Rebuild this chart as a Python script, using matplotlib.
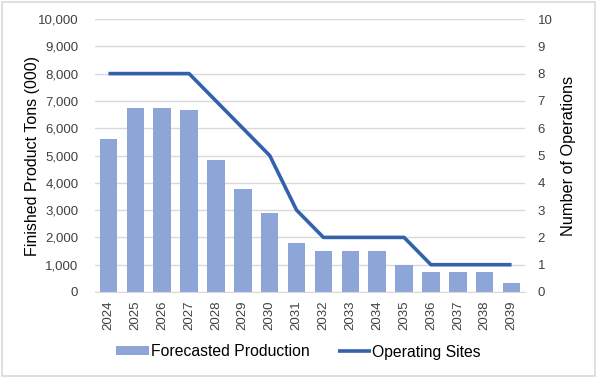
import matplotlib
matplotlib.use("Agg")
import matplotlib.pyplot as plt
from matplotlib.ticker import FuncFormatter, MultipleLocator
from matplotlib.patches import Rectangle

plt.rcParams['font.family'] = ['Liberation Sans', 'DejaVu Sans']

years = [str(y) for y in range(2024, 2040)]
production = [5600, 6750, 6750, 6650, 4850, 3780, 2900, 1780, 1520, 1500, 1500, 1000, 730, 730, 730, 340]
sites = [8, 8, 8, 8, 7, 6, 5, 3, 2, 2, 2, 2, 1, 1, 1, 1]

fig = plt.figure(figsize=(5.97, 3.78), dpi=100)
ax = fig.add_axes([95/597, 1 - 292/378, 430/597, 273/378])
ax2 = ax.twinx()

x = list(range(len(years)))
bar_color = '#8EA5D8'
line_color = '#3461AC'
bars = ax.bar(x, production, width=0.65, color=bar_color, zorder=2, label='Forecasted Production')
ln, = ax2.plot(x, sites, color=line_color, lw=2.6, label='Operating Sites', solid_capstyle='butt', zorder=3)

ax.set_ylim(0, 10000)
ax.yaxis.set_major_locator(MultipleLocator(1000))
ax.yaxis.set_major_formatter(FuncFormatter(lambda v, p: f"{int(v):,}"))
ax2.set_ylim(0, 10)
ax2.yaxis.set_major_locator(MultipleLocator(1))
ax.set_xlim(-0.5, len(years) - 0.5)
ax.set_xticks(x)
ax.set_xticklabels(years, rotation=90, fontsize=9.5, color='#404040')

ax.grid(axis='y', color='#D9D9D9', lw=1, zorder=0)
ax.set_axisbelow(True)
for a in (ax, ax2):
    for s in a.spines.values():
        s.set_visible(False)
    a.tick_params(length=0, labelsize=9.5, colors='#404040')
ax.spines['bottom'].set_visible(True)
ax.spines['bottom'].set_color('#D9D9D9')

ax.tick_params(axis='y', pad=12)
ax2.tick_params(axis='y', pad=9)
ax.tick_params(axis='x', pad=6)

ax.set_ylabel('Finished Product Tons (000)', fontsize=11, color='#000000')
ax.yaxis.set_label_coords(-0.146, 0.5)
ax.yaxis.label.set_va('center')
ax2.set_ylabel('Number of Operations', fontsize=11, color='#000000', rotation=90)
ax2.yaxis.set_label_coords(1.100, 0.5)
ax2.yaxis.label.set_va('center')

# scale label font sizes to match the reference text lengths (pixels)
fig.canvas.draw()
r = fig.canvas.get_renderer()
for lab, target in ((ax.yaxis.label, 199), (ax2.yaxis.label, 159)):
    h = lab.get_window_extent(r).height
    lab.set_fontsize(lab.get_fontsize() * target / h)

fig.legend(handles=[bars, ln], labels=['Forecasted Production', 'Operating Sites'],
           loc='center', bbox_to_anchor=(0.5, 1 - 352/378), ncol=2, frameon=False,
           fontsize=11.3, handlelength=2.1, handletextpad=0.1, columnspacing=1.8,
           handleheight=0.5)

fig.patches.append(Rectangle((0.004, 0.004), 0.992, 0.992, transform=fig.transFigure,
                             fill=False, edgecolor='#D9D9D9', lw=1.2))

fig.savefig('out.png', dpi=100, facecolor='white')
